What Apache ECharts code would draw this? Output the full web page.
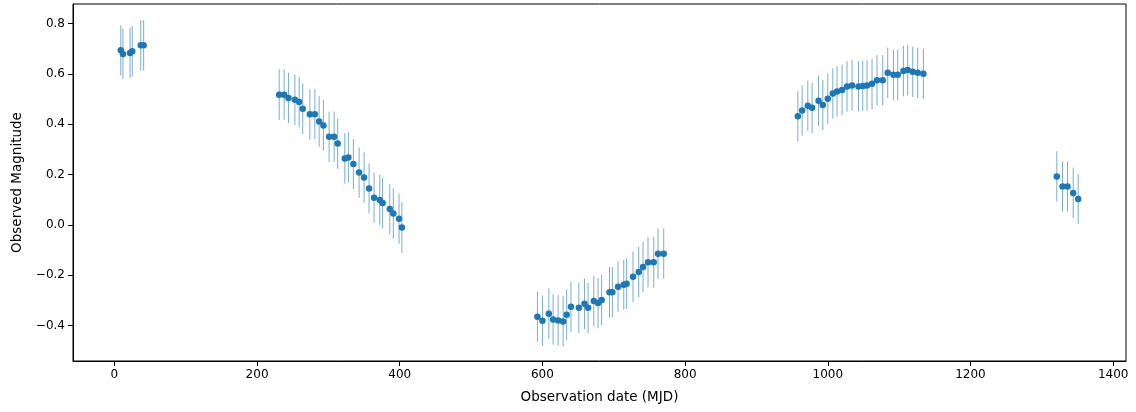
<!DOCTYPE html>
<html>
<head>
<meta charset="utf-8">
<script src="https://cdn.jsdelivr.net/npm/echarts@6/dist/echarts.min.js"></script>
<style>
html,body{margin:0;padding:0;background:#fff;}
#chart{width:1136px;height:412px;}
</style>
</head>
<body>
<div id="chart"></div>
<script>
// Observation dates (MJD)
const mjd = [
  9, 12, 22, 25, 37, 41,
  231, 238, 244, 253, 259, 264, 274, 281, 287, 293, 301, 308, 313, 323, 328, 335, 343, 350, 357, 364, 372, 376, 386, 391, 399, 403,
  593, 600, 609, 615, 622, 629, 634, 640, 651, 659, 664, 672, 678, 683, 694, 698, 706, 714, 718, 727, 735, 741, 748, 756, 762, 770,
  958, 964, 972, 978, 987, 993, 1000, 1007, 1013, 1020, 1027, 1034, 1043, 1049, 1055, 1062, 1069, 1077, 1084, 1092, 1098, 1106, 1112, 1119, 1126, 1134,
  1321, 1329, 1336, 1344, 1351
];
// Observed magnitudes
const mag = [
  0.693, 0.679, 0.683, 0.689, 0.713, 0.713,
  0.517, 0.517, 0.504, 0.497, 0.488, 0.461, 0.439, 0.439, 0.411, 0.395, 0.350, 0.350, 0.323, 0.264, 0.268, 0.242, 0.208, 0.188, 0.145, 0.108, 0.099, 0.087, 0.063, 0.045, 0.025, -0.010,
  -0.364, -0.380, -0.352, -0.375, -0.379, -0.383, -0.356, -0.325, -0.329, -0.313, -0.329, -0.302, -0.310, -0.298, -0.267, -0.267, -0.245, -0.237, -0.233, -0.206, -0.187, -0.167, -0.148, -0.148, -0.114, -0.114,
  0.431, 0.454, 0.473, 0.465, 0.493, 0.476, 0.501, 0.522, 0.530, 0.536, 0.550, 0.554, 0.550, 0.552, 0.554, 0.560, 0.574, 0.574, 0.604, 0.596, 0.596, 0.611, 0.615, 0.608, 0.604, 0.600,
  0.192, 0.153, 0.153, 0.127, 0.103
];
// Magnitude errors (half-length of error bars)
const magErr = [
  0.1, 0.1, 0.1, 0.1, 0.1, 0.1,
  0.1, 0.1, 0.1, 0.1, 0.1, 0.1, 0.1, 0.1, 0.1, 0.1, 0.1, 0.1, 0.1, 0.1, 0.1, 0.1, 0.1, 0.1, 0.1, 0.1, 0.1, 0.1, 0.1, 0.1, 0.1, 0.1,
  0.1, 0.1, 0.1, 0.1, 0.1, 0.1, 0.1, 0.1, 0.1, 0.1, 0.1, 0.1, 0.1, 0.1, 0.1, 0.1, 0.1, 0.1, 0.1, 0.1, 0.1, 0.1, 0.1, 0.1, 0.1, 0.1,
  0.1, 0.1, 0.1, 0.1, 0.1, 0.1, 0.1, 0.1, 0.1, 0.1, 0.1, 0.1, 0.1, 0.1, 0.1, 0.1, 0.1, 0.1, 0.1, 0.1, 0.1, 0.1, 0.1, 0.1, 0.1, 0.1,
  0.1, 0.1, 0.1, 0.1, 0.1
];
// Tick labels
const xTicks = [0, 200, 400, 600, 800, 1000, 1200, 1400];
const yTicks = [-0.4, -0.2, 0.0, 0.2, 0.4, 0.6, 0.8];

const pts = mjd.map((d, i) => [d, mag[i]]);
const bars = mjd.map((d, i) => [d, mag[i] - magErr[i], mag[i] + magErr[i]]);

const font = 'DejaVu Sans';
const chart = echarts.init(document.getElementById('chart'), null, {renderer: 'canvas'});
chart.setOption({
  animation: false,
  backgroundColor: '#fff',
  grid: {left: 73, right: 10, top: 4, bottom: 51, show: true, borderColor: '#000', borderWidth: 1, backgroundColor: 'transparent'},
  xAxis: {
    type: 'value', min: -58, max: 1418,
    name: 'Observation date (MJD)', nameLocation: 'middle', nameGap: 29,
    nameTextStyle: {fontFamily: font, fontSize: 13.5, color: '#000'},
    axisLine: {show: true, onZero: false, lineStyle: {color: '#000', width: 1}},
    axisTick: {show: true, length: 5, lineStyle: {color: '#000'}, customValues: xTicks},
    axisLabel: {fontFamily: font, fontSize: 12, color: '#000', margin: 8, customValues: xTicks,
      formatter: v => String(v)},
    splitLine: {show: false}
  },
  yAxis: {
    type: 'value', min: -0.54, max: 0.877,
    name: 'Observed Magnitude', nameLocation: 'middle', nameGap: 48,
    nameTextStyle: {fontFamily: font, fontSize: 13.5, color: '#000'},
    axisLine: {show: true, onZero: false, lineStyle: {color: '#000', width: 1}},
    axisTick: {show: true, length: 5, lineStyle: {color: '#000'}, customValues: yTicks},
    axisLabel: {fontFamily: font, fontSize: 12, color: '#000', margin: 8, customValues: yTicks,
      formatter: v => (v < 0 ? '\u2212' : '') + Math.abs(v).toFixed(1)},
    splitLine: {show: false}
  },
  series: [
    {
      type: 'custom',
      data: bars,
      encode: {x: 0, y: [1, 2]},
      z: 2,
      renderItem: function (params, api) {
        const x = api.value(0);
        const p1 = api.coord([x, api.value(1)]);
        const p2 = api.coord([x, api.value(2)]);
        return {
          type: 'line',
          shape: {x1: p1[0], y1: p1[1], x2: p2[0], y2: p2[1]},
          style: {stroke: 'rgba(31,119,180,0.6)', lineWidth: 1}
        };
      }
    },
    {
      type: 'scatter',
      data: pts,
      symbol: 'circle',
      symbolSize: 6.5,
      z: 3,
      itemStyle: {color: '#1f77b4', opacity: 1}
    }
  ]
});
</script>
</body>
</html>
